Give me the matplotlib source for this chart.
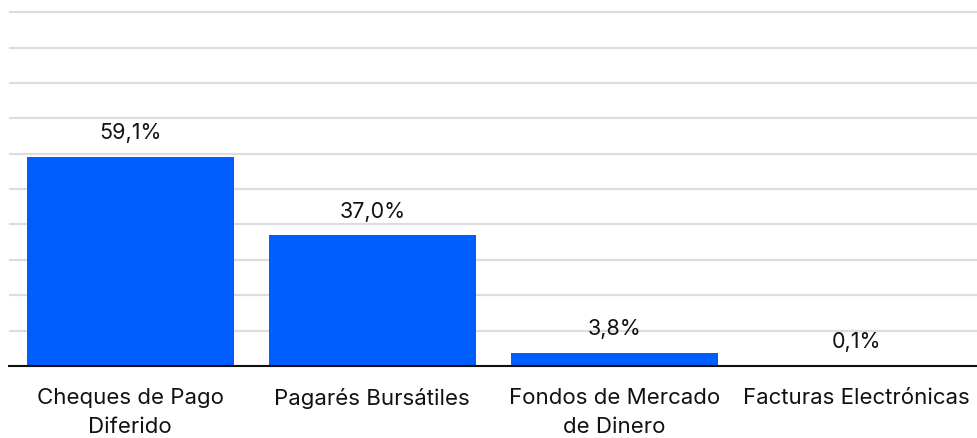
import matplotlib.pyplot as plt
import numpy as np

categories = ["Cheques de Pago\nDiferido", "Pagarés Bursátiles",
              "Fondos de Mercado\nde Dinero", "Facturas Electrónicas"]
values = [59.1, 37.0, 3.8, 0.1]
value_labels = ["59,1%", "37,0%", "3,8%", "0,1%"]

plt.rcParams['font.family'] = ['Inter', 'DejaVu Sans']

fig = plt.figure(figsize=(9.78, 4.38), dpi=100)
ax = fig.add_axes([9/978, 72/438, 1 - 9/978, (366 - 10)/438])

x = np.arange(len(categories))
bars = ax.bar(x, values, width=0.855, color='#005eff', zorder=3)

for xi, v, lab in zip(x, values, value_labels):
    ax.text(xi, v + 3.8, lab, ha='center', va='bottom', fontsize=15.5, color='#111111')

ax.set_xlim(-0.5, 3.5)
ax.set_ylim(0, 100.6)
ax.set_yticks(np.arange(10, 101, 10))
ax.yaxis.grid(True, color='#dddddd', linewidth=1.6, zorder=0)
ax.tick_params(axis='y', left=False, labelleft=False)
ax.set_xticks(x)
ax.set_xticklabels(categories, fontsize=16, linespacing=1.55)
ax.tick_params(axis='x', length=0, pad=16, colors='#111111')

for s in ['top', 'right', 'left']:
    ax.spines[s].set_visible(False)
ax.spines['bottom'].set_color('#111111')
ax.spines['bottom'].set_linewidth(1.5)
ax.spines['bottom'].set_zorder(4)

fig.savefig('out.png', dpi=100)
